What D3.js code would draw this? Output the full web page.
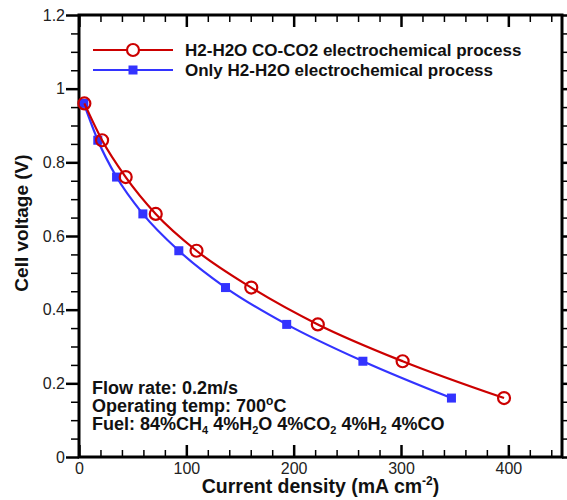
<!DOCTYPE html>
<html>
<head>
<meta charset="utf-8">
<script src="https://cdn.jsdelivr.net/npm/d3@7"></script>
<style>
  body { margin: 0; background: #fff; }
  text { font-family: Arial, "Liberation Sans", sans-serif; }
</style>
</head>
<body>
<svg id="chart" width="567" height="500"></svg>
<script>
// data
const coCurrent = [5, 21.5, 43.5, 71.5, 109.5, 160.5, 222.5, 301.5, 396];
const coVoltage = [0.96, 0.86, 0.76, 0.66, 0.56, 0.46, 0.36, 0.26, 0.16];
const h2Current = [4.5, 17.5, 35, 59.5, 93, 136.5, 193.5, 264.5, 347];
const h2Voltage = [0.96, 0.86, 0.76, 0.66, 0.56, 0.46, 0.36, 0.26, 0.16];
const seriesNames = ["H2-H2O CO-CO2 electrochemical process", "Only H2-H2O electrochemical process"];
const xTicks = [0, 100, 200, 300, 400];
const yTicks = [0, 0.2, 0.4, 0.6, 0.8, 1, 1.2];

const margin = { top: 15, right: 5, bottom: 43, left: 79 },
      width = 567 - margin.left - margin.right,
      height = 500 - margin.top - margin.bottom;

const red = "#cc0000", blue = "#3333ff";

const svg = d3.select("#chart")
  .append("g")
  .attr("transform", "translate(" + margin.left + "," + margin.top + ")");

const x = d3.scaleLinear().domain([0, 450]).range([0, width]);
const y = d3.scaleLinear().domain([0, 1.2]).range([height, 0]);

// minor ticks first, then major ones on top
const xMinor = d3.range(0, 451, 20).filter(v => v % 100 !== 0);
const yMinor = d3.range(0, 1.201, 0.05).filter(v => Math.abs(v * 5 - Math.round(v * 5)) > 1e-6);

const fmt = d => String(+d.toFixed(1));

// bottom axis (ticks inward)
svg.append("g").attr("transform", "translate(0," + height + ")")
  .call(d3.axisBottom(x).tickValues(xMinor).tickSize(-7).tickFormat(""))
  .selectAll(".tick line").attr("stroke-width", 1.5);
svg.append("g").attr("transform", "translate(0," + height + ")")
  .call(d3.axisBottom(x).tickValues(xTicks).tickSize(-12).tickPadding(6).tickFormat(d => d));

// top axis (ticks inward)
svg.append("g").call(d3.axisTop(x).tickValues(xMinor).tickSize(-7).tickFormat(""))
  .selectAll(".tick line").attr("stroke-width", 1.5);
svg.append("g").call(d3.axisTop(x).tickValues(xTicks).tickSize(-12).tickFormat(""));

// left axis (ticks outward)
svg.append("g").call(d3.axisLeft(y).tickValues(yMinor).tickSize(8).tickFormat(""))
  .selectAll(".tick line").attr("stroke-width", 1.5);
svg.append("g").call(d3.axisLeft(y).tickValues(yTicks).tickSize(13).tickPadding(1).tickFormat(fmt));

// right axis (ticks outward)
svg.append("g").attr("transform", "translate(" + width + ",0)")
  .call(d3.axisRight(y).tickValues(yMinor).tickSize(5).tickFormat(""))
  .selectAll(".tick line").attr("stroke-width", 1.5);
svg.append("g").attr("transform", "translate(" + width + ",0)")
  .call(d3.axisRight(y).tickValues(yTicks).tickSize(5).tickFormat(""));

svg.selectAll(".domain").remove();
svg.selectAll(".tick line").filter(function() { return !this.getAttribute("stroke-width"); })
  .attr("stroke-width", 2.5);
svg.selectAll(".tick text").attr("font-size", 16).attr("font-family", "Arial, 'Liberation Sans', sans-serif").attr("fill", "#222");

// frame
svg.append("rect")
  .attr("width", width).attr("height", height)
  .attr("fill", "none").attr("stroke", "#000").attr("stroke-width", 3);

// curves
const line = d3.line()
  .x(d => x(d[0]))
  .y(d => y(d[1]))
  .curve(d3.curveMonotoneX);

const coData = coCurrent.map((c, i) => [c, coVoltage[i]]);
const h2Data = h2Current.map((c, i) => [c, h2Voltage[i]]);

svg.append("path").datum(h2Data)
  .attr("d", line).attr("fill", "none").attr("stroke", blue).attr("stroke-width", 2.2);
svg.selectAll(".sq").data(h2Data).enter().append("rect")
  .attr("class", "sq")
  .attr("x", d => x(d[0]) - 4.5).attr("y", d => y(d[1]) - 4.5)
  .attr("width", 9).attr("height", 9).attr("fill", blue);

svg.append("path").datum(coData)
  .attr("d", line).attr("fill", "none").attr("stroke", red).attr("stroke-width", 2.2);
svg.selectAll(".circ").data(coData).enter().append("circle")
  .attr("class", "circ")
  .attr("cx", d => x(d[0])).attr("cy", d => y(d[1])).attr("r", 6)
  .attr("fill", "none").attr("stroke", red).attr("stroke-width", 2.2);

// legend
const legend = svg.append("g").attr("transform", "translate(14,35)");
[[red, "circle"], [blue, "square"]].forEach((s, i) => {
  const g = legend.append("g").attr("transform", "translate(0," + (i * 20) + ")");
  g.append("line").attr("x1", 0).attr("x2", 80).attr("stroke", s[0]).attr("stroke-width", 2.2);
  if (s[1] === "circle") {
    g.append("circle").attr("cx", 40).attr("r", 6).attr("fill", "#fff").attr("stroke", s[0]).attr("stroke-width", 2.2);
  } else {
    g.append("rect").attr("x", 35.5).attr("y", -4.5).attr("width", 9).attr("height", 9).attr("fill", s[0]);
  }
  g.append("text").attr("x", 92).attr("y", 5.5)
    .attr("font-size", 17).attr("font-weight", "bold").attr("fill", "#111")
    .text(seriesNames[i]);
});

// note
const note = svg.append("text").attr("font-size", 18).attr("font-weight", "bold").attr("fill", "#111");
note.append("tspan").attr("x", 13).attr("y", 379).text("Flow rate: 0.2m/s");
const l2 = note.append("tspan").attr("x", 13).attr("y", 397);
l2.append("tspan").text("Operating temp: 700");
l2.append("tspan").attr("font-size", 12).attr("dy", -7).text("o");
l2.append("tspan").attr("dy", 7).text("C");
const l3 = note.append("tspan").attr("x", 13).attr("y", 414.5);
let shift = 0;
[["Fuel: 84%CH", "4"], [" 4%H", "2"], ["O 4%CO", "2"], [" 4%H", "2"], [" 4%CO", null]].forEach(p => {
  l3.append("tspan").attr("dy", -shift).text(p[0]);
  shift = 0;
  if (p[1]) {
    l3.append("tspan").attr("font-size", 11).attr("dy", 4).text(p[1]);
    shift = 4;
  }
});

// axis titles
svg.append("text")
  .attr("transform", "translate(-51," + (height / 2 - 13) + ") rotate(-90)")
  .attr("text-anchor", "middle")
  .attr("font-size", 19).attr("font-weight", "bold").attr("fill", "#111")
  .text("Cell voltage (V)");

const xt = svg.append("text")
  .attr("x", width / 2).attr("y", height + 36)
  .attr("text-anchor", "middle")
  .attr("font-size", 19.5).attr("font-weight", "bold").attr("fill", "#111");
xt.append("tspan").text("Current density (mA cm");
xt.append("tspan").attr("font-size", 12).attr("dy", -8).text("-2");
xt.append("tspan").attr("dy", 8).text(")");
</script>
</body>
</html>
